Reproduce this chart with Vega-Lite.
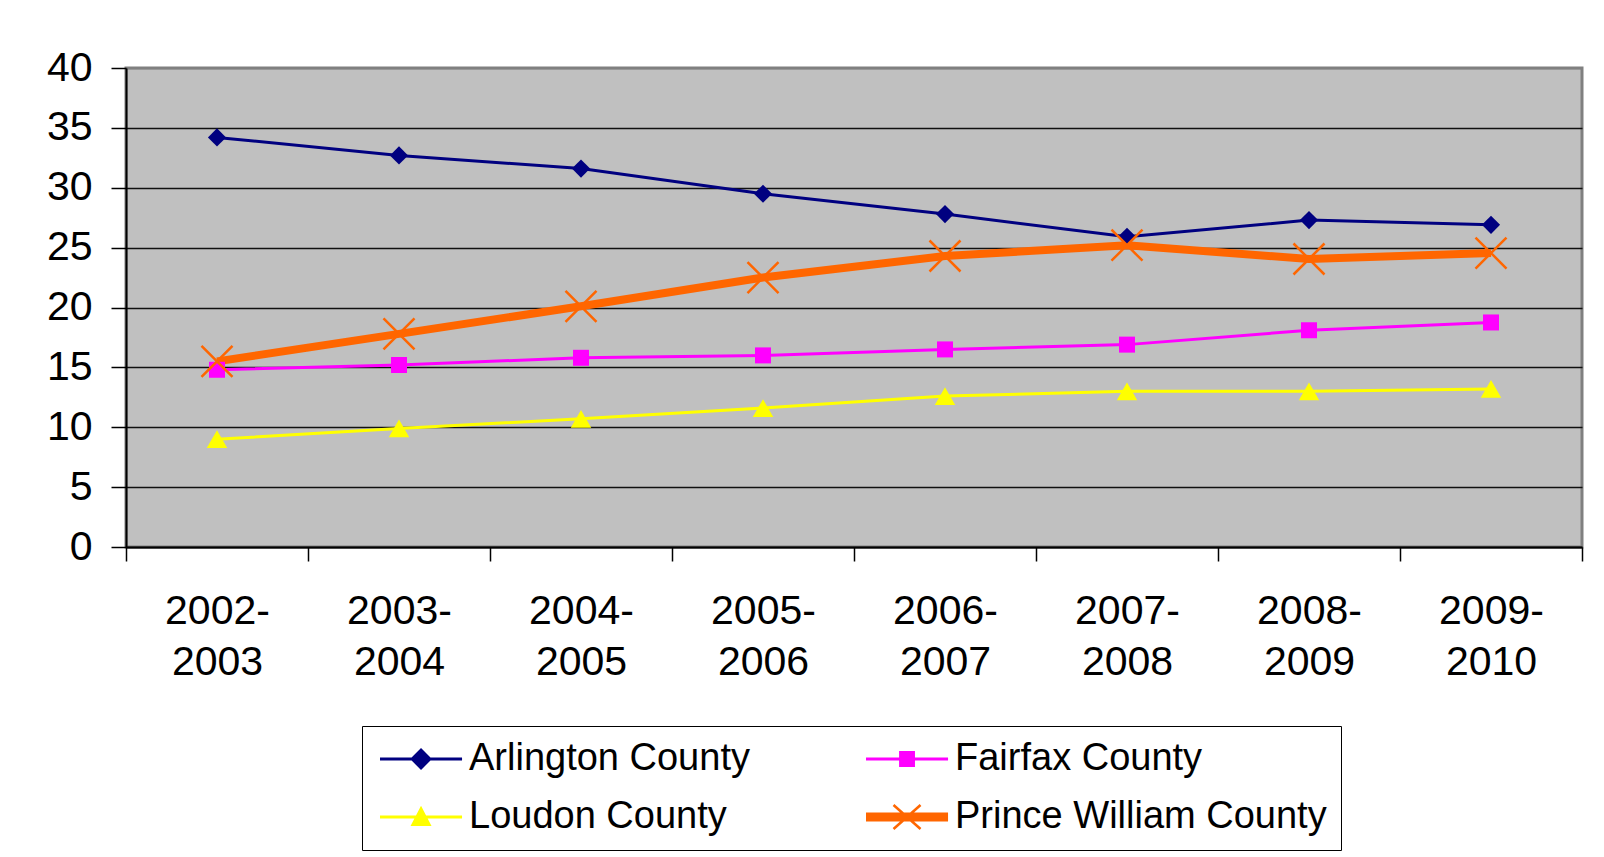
{
  "$schema": "https://vega.github.io/schema/vega-lite/v6.json",
  "width": 1456,
  "height": 479,
  "autosize": {"type": "none"},
  "padding": {"left": 126, "top": 68, "right": 22, "bottom": 310},
  "background": "white",
  "config": {
    "view": {"fill": "#c0c0c0", "stroke": "#808080", "strokeWidth": 3},
    "font": "Liberation Sans"
  },
  "data": {
    "values": [
      {"period": "2002-2003", "series": "Arlington County", "value": 34.2},
      {"period": "2003-2004", "series": "Arlington County", "value": 32.7},
      {"period": "2004-2005", "series": "Arlington County", "value": 31.6},
      {"period": "2005-2006", "series": "Arlington County", "value": 29.5},
      {"period": "2006-2007", "series": "Arlington County", "value": 27.8},
      {"period": "2007-2008", "series": "Arlington County", "value": 25.9},
      {"period": "2008-2009", "series": "Arlington County", "value": 27.3},
      {"period": "2009-2010", "series": "Arlington County", "value": 26.9},
      {"period": "2002-2003", "series": "Fairfax County", "value": 14.8},
      {"period": "2003-2004", "series": "Fairfax County", "value": 15.2},
      {"period": "2004-2005", "series": "Fairfax County", "value": 15.8},
      {"period": "2005-2006", "series": "Fairfax County", "value": 16.0},
      {"period": "2006-2007", "series": "Fairfax County", "value": 16.5},
      {"period": "2007-2008", "series": "Fairfax County", "value": 16.9},
      {"period": "2008-2009", "series": "Fairfax County", "value": 18.1},
      {"period": "2009-2010", "series": "Fairfax County", "value": 18.75},
      {"period": "2002-2003", "series": "Loudon County", "value": 9.0},
      {"period": "2003-2004", "series": "Loudon County", "value": 9.9},
      {"period": "2004-2005", "series": "Loudon County", "value": 10.7},
      {"period": "2005-2006", "series": "Loudon County", "value": 11.6},
      {"period": "2006-2007", "series": "Loudon County", "value": 12.6},
      {"period": "2007-2008", "series": "Loudon County", "value": 13.0},
      {"period": "2008-2009", "series": "Loudon County", "value": 13.0},
      {"period": "2009-2010", "series": "Loudon County", "value": 13.2},
      {"period": "2002-2003", "series": "Prince William County", "value": 15.5},
      {"period": "2003-2004", "series": "Prince William County", "value": 17.8},
      {"period": "2004-2005", "series": "Prince William County", "value": 20.1},
      {"period": "2005-2006", "series": "Prince William County", "value": 22.5},
      {"period": "2006-2007", "series": "Prince William County", "value": 24.3},
      {"period": "2007-2008", "series": "Prince William County", "value": 25.2},
      {"period": "2008-2009", "series": "Prince William County", "value": 24.05},
      {"period": "2009-2010", "series": "Prince William County", "value": 24.55}
    ]
  },
  "encoding": {
    "x": {
      "field": "period",
      "type": "ordinal",
      "sort": null,
      "scale": {"type": "band", "paddingInner": 0, "paddingOuter": 0},
      "axis": {
        "title": null,
        "tickBand": "extent",
        "tickSize": 14,
        "tickColor": "black",
        "tickWidth": 1.5,
        "domainColor": "black",
        "domainWidth": 2,
        "labelFont": "Liberation Sans",
        "labelFontSize": 41,
        "labelColor": "black",
        "labelLineHeight": 51,
        "labelBaseline": "top",
        "labelPadding": 30,
        "labelAngle": 0,
        "labelExpr": "[slice(datum.label,0,5), slice(datum.label,5)]",
        "grid": false
      }
    },
    "y": {
      "field": "value",
      "type": "quantitative",
      "scale": {"domain": [0, 40]},
      "axis": {
        "title": null,
        "values": [0, 5, 10, 15, 20, 25, 30, 35, 40],
        "grid": true,
        "gridColor": {"condition": {"test": "datum.value === 40", "value": "#808080"}, "value": "#111111"},
        "gridWidth": 1.3,
        "domainColor": "black",
        "domainWidth": 2,
        "tickColor": "black",
        "tickSize": 15,
        "tickWidth": 1.5,
        "labelFont": "Liberation Sans",
        "labelFontSize": 41,
        "labelColor": "black",
        "labelPadding": 19
      }
    }
  },
  "layer": [
    {
      "mark": {"type": "line"},
      "encoding": {
        "color": {
          "field": "series",
          "type": "nominal",
          "scale": {
            "domain": ["Arlington County", "Fairfax County", "Loudon County", "Prince William County"],
            "range": ["#000080", "#FF00FF", "#FFFF00", "#FF6600"]
          },
          "legend": {
            "title": null,
            "orient": "none",
            "direction": "horizontal",
            "legendX": 236,
            "legendY": 658,
            "columns": 2,
            "symbolSize": 900,
            "symbolStrokeWidth": 0,
            "labelFont": "Liberation Sans",
            "labelFontSize": 38,
            "labelColor": "black",
            "labelLimit": 1000,
            "labelOffset": 55,
            "columnPadding": 112,
            "rowPadding": 20,
            "padding": 14,
            "strokeColor": "black",
            "fillColor": "white",
            "encode": {
              "symbols": {
                "update": {
                  "shape": {"signal": "datum.value === 'Arlington County' ? 'M-1,-0.1H4.47V0.1H-1Z M1.735,-0.73L2.465,0L1.735,0.73L1.005,0Z' : datum.value === 'Fairfax County' ? 'M-1,-0.1H4.47V0.1H-1Z M1.205,-0.53H2.265V0.53H1.205Z' : datum.value === 'Loudon County' ? 'M-1,-0.1H4.47V0.1H-1Z M1.735,-0.75L2.435,0.6H1.035Z' : 'M-1,-0.3H4.47V0.3H-1Z M0.7785,-0.7365L0.8915,-0.8635L2.6915,0.7365L2.5785,0.8635Z M0.8915,0.8635L0.7785,0.7365L2.5785,-0.8635L2.6915,-0.7365Z'"},
                  "fill": {"signal": "datum.value === 'Arlington County' ? '#000080' : datum.value === 'Fairfax County' ? '#FF00FF' : datum.value === 'Loudon County' ? '#FFFF00' : '#FF6600'"},
                  "stroke": {"value": "transparent"},
                  "strokeWidth": {"value": 0},
                  "size": {"value": 900},
                  "opacity": {"value": 1}
                }
              }
            }
          }
        },
        "strokeWidth": {"condition": {"test": "datum.series === 'Prince William County'", "value": 8}, "value": 3}
      }
    },
    {
      "transform": [{"filter": "datum.series !== 'Prince William County'"}],
      "mark": {"type": "point", "filled": true, "opacity": 1, "strokeWidth": 0},
      "encoding": {
        "shape": {
          "condition": [
            {"test": "datum.series === 'Fairfax County'", "value": "square"},
            {"test": "datum.series === 'Loudon County'", "value": "triangle-up"}
          ],
          "value": "diamond"
        },
        "fill": {
          "condition": [
            {"test": "datum.series === 'Fairfax County'", "value": "#FF00FF"},
            {"test": "datum.series === 'Loudon County'", "value": "#FFFF00"}
          ],
          "value": "#000080"
        },
        "size": {
          "condition": [
            {"test": "datum.series === 'Fairfax County'", "value": 256},
            {"test": "datum.series === 'Loudon County'", "value": 420}
          ],
          "value": 330
        }
      }
    },
    {
      "transform": [{"filter": "datum.series === 'Prince William County'"}],
      "mark": {"type": "point", "shape": "M-1,-1L1,1M-1,1L1,-1", "filled": false, "size": 961, "strokeWidth": 2.5, "color": "#FF6600", "opacity": 1},
      "encoding": {}
    }
  ]
}
